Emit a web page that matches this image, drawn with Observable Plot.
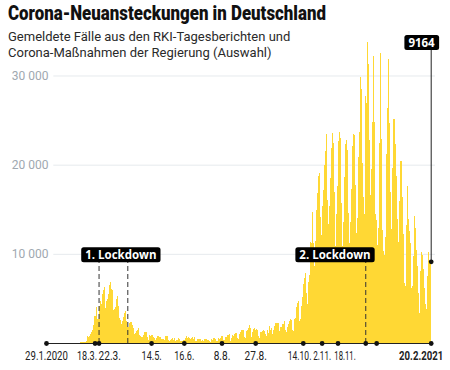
<!DOCTYPE html>
<html><head><meta charset="utf-8">
<script src="https://cdn.jsdelivr.net/npm/d3@7"></script>
<script src="https://cdn.jsdelivr.net/npm/@observablehq/plot@0.6"></script>
<style>
body{margin:0;background:#fff;}
#wrap{position:relative;width:450px;height:370px;overflow:hidden;background:#fff;}
#chart{position:absolute;left:0;top:0;}
#title{position:absolute;left:8px;top:2px;z-index:2;white-space:nowrap;}
#title span{display:inline-block;transform-origin:0 50%;font-weight:900;font-size:19.5px;font-family:Roboto,sans-serif;color:#111;line-height:24px;}
#sub{position:absolute;left:8px;top:29px;font-size:13px;font-family:Roboto,sans-serif;color:#2a2a2a;line-height:16px;z-index:2;white-space:nowrap;}
</style></head><body>
<div id="wrap"><div id="chart"></div><div id="title"><span>Corona-Neuansteckungen in Deutschland</span></div><div id="sub">Gemeldete Fälle aus den RKI-Tagesberichten und<br>Corona-Maßnahmen der Regierung (Auswahl)</div></div>
<script>
// Daily reported new cases (from 29.1.2020 to 20.2.2021)
const jan2020 = [2, 0, 1];
const feb2020 = [2, 1, 2, 0, 2, 1, 0, 0, 0, 2, 0, 0, 0, 0, 0, 0, 0, 0, 0, 0, 0, 0, 0, 0, 2, 11, 5, 10, 13];
const mar2020 = [35, 31, 39, 66, 84, 131, 139, 124, 157, 271, 802, 693, 733, 1043, 1210, 1450, 1985, 3070, 2993, 4000, 2700, 2660, 4183, 4764, 4337, 5500, 5900, 6294, 3965, 4751, 4923];
const apr2020 = [5453, 6500, 6800, 6082, 5936, 3677, 3834, 4003, 4974, 5323, 4133, 2821, 2537, 2082, 2486, 2866, 3380, 3609, 2458, 1775, 1785, 2237, 2352, 2337, 2055, 1737, 1018, 1144, 1304, 1478];
const may2020 = [1639, 945, 793, 679, 685, 947, 1284, 1209, 1251, 667, 357, 933, 798, 933, 913, 620, 583, 342, 513, 797, 745, 460, 638, 431, 289, 432, 362, 353, 741, 738, 286];
const jun2020 = [333, 213, 342, 394, 507, 301, 555, 214, 350, 318, 555, 436, 192, 247, 192, 378, 345, 580, 770, 601, 687, 537, 503, 587, 630, 477, 687, 256, 262, 466];
const jul2020 = [503, 446, 422, 239, 297, 219, 397, 442, 440, 378, 309, 248, 159, 395, 351, 534, 583, 430, 198, 249, 522, 454, 569, 815, 781, 305, 340, 633, 684, 902, 870];
const aug2020 = [955, 240, 509, 879, 741, 1045, 1147, 1122, 555, 436, 966, 1226, 1445, 1449, 1415, 625, 561, 1390, 1510, 1707, 2034, 1737, 711, 1278, 1576, 1628, 1507, 1571, 1479, 785, 610];
const sep2020 = [1218, 1256, 1311, 1453, 1378, 988, 814, 1499, 1176, 1892, 1484, 1630, 1007, 1345, 1407, 1901, 2194, 1916, 2297, 1345, 922, 1769, 1769, 2143, 2153, 2507, 1411, 1192, 1798, 2089];
const oct2020 = [2503, 2673, 2563, 1411, 1382, 2639, 2828, 4058, 4516, 4721, 2467, 2673, 4122, 5132, 6638, 7334, 7830, 5587, 4325, 6868, 7595, 11287, 11242, 14714, 11176, 8685, 11409, 14964, 16774, 18681, 19059];
const nov2020 = [14177, 12097, 15352, 17214, 19990, 21506, 23399, 16017, 13363, 15332, 18487, 21866, 23542, 22461, 16947, 10824, 14419, 17561, 22609, 23648, 22964, 15741, 10864, 13554, 18633, 22268, 22806, 21695, 14611, 11169];
const dec2020 = [13604, 17270, 22046, 23449, 23318, 17767, 12332, 14054, 20815, 23679, 29875, 28438, 20200, 16362, 14432, 27728, 26923, 33777, 31300, 22771, 16643, 19528, 24740, 32195, 24740, 14455, 13755, 10976, 12892, 22459, 32552];
const jan2021 = [22924, 12690, 10315, 9847, 11897, 21237, 26391, 31849, 24694, 16946, 12497, 12802, 19600, 25164, 22368, 18678, 13882, 7141, 11369, 15974, 20398, 17862, 16417, 12257, 6729, 6408, 13202, 17553, 13881, 12542, 11192];
const feb2021 = [6114, 6385, 9705, 14211, 12908, 10485, 8616, 5608, 3379, 8072, 10237, 9860, 8354, 6114, 4426, 3856, 7556, 10207, 9113, 9164];

const yTicks = [10000, 20000, 30000];
const tickDates = ["2020-01-29", "2020-03-18", "2020-03-22", "2020-05-14", "2020-06-16", "2020-07-24", "2020-08-27", "2020-10-14", "2020-11-02", "2020-11-18", "2020-12-16", "2020-12-27", "2021-02-20"];
const tickLabels = ["29.1.2020", "18.3.", "22.3.", "14.5.", "16.6.", "8.8.", "27.8.", "14.10.", "2.11.", "18.11.", "", "", "20.2.2021"];
const lockdownLines = ["2020-03-22", "2020-04-20", "2020-12-16"];
const lockdownLabelDates = ["2020-04-13", "2020-11-15"];
const lockdownLabelTexts = ["1. Lockdown", "2. Lockdown"];

const DAY = 864e5;
const parse = s => new Date(s + "T00:00:00Z");
const start = parse("2020-01-29");
const cases = [].concat(jan2020, feb2020, mar2020, apr2020, may2020, jun2020, jul2020, aug2020, sep2020, oct2020, nov2020, dec2020, jan2021, feb2021);
const data = cases.map((v, i) => ({date: new Date(+start + i * DAY), value: v}));
const last = data[data.length - 1];
const ticks = tickDates.map((d, i) => ({date: parse(d), label: tickLabels[i]}));
const lockLabels = lockdownLabelDates.map((d, i) => ({date: parse(d), text: lockdownLabelTexts[i]}));
const labelTop = 33700;

const yFmt = d => d3.format(",")(d).replace(/,/g, " ");
const nudge = {"18.3.": ["end", 2], "22.3.": ["start", -0.5], "14.10.": ["middle", -3.7], "18.11.": ["middle", 7], "20.2.2021": ["end", 12]};

const groups = d3.groups(ticks.filter(t => t.label), t => (nudge[t.label] || ["middle", 0]).join("|"));
const tickTextMarks = groups.map(([key, arr]) => {
  const [anchor, dx] = key.split("|");
  const bold = arr.some(t => t.label === "20.2.2021");
  return Plot.text(arr, {x: "date", y: 0, text: "label", textAnchor: anchor, dx: +dx, dy: 12.5,
    fontSize: 12, fontFamily: "Roboto", fontWeight: bold ? "bold" : "normal", fill: "#222"});
});

const chart = Plot.plot({
  width: 450, height: 370,
  marginLeft: 46, marginRight: 19.3, marginTop: 30.9, marginBottom: 27,
  x: {type: "utc", domain: [start, last.date], axis: null},
  y: {domain: [0, 35000], axis: null},
  style: {background: "transparent", overflow: "visible"},
  marks: [
    Plot.ruleY(yTicks, {stroke: "#e6eaed", insetLeft: 7.3, insetRight: -4.3}),
    Plot.text(yTicks, {y: d => d, frameAnchor: "left", text: yFmt, textAnchor: "end", dx: 2, fill: "#a0a8b0", fontSize: 12, fontFamily: "Roboto"}),
    Plot.rectY(data, {x1: d => new Date(+d.date - DAY * 0.55), x2: d => new Date(+d.date + DAY * 0.55), y: "value", fill: "#ffd834", shapeRendering: "crispEdges"}),
    Plot.ruleX(lockdownLines, {x: d => parse(d), y1: 0, y2: 10000, stroke: "#333", strokeWidth: 1, strokeDasharray: "5,3"}),
    Plot.ruleX([last], {x: "date", y1: "value", y2: labelTop, stroke: "#222", strokeWidth: 1}),
    Plot.ruleY([0], {stroke: "#222", strokeWidth: 1.2}),
    Plot.dot(ticks, {x: "date", y: 0, r: 2.4, fill: "#111"}),
    Plot.dot([last], {x: "date", y: "value", r: 2.4, fill: "#111"}),
    ...tickTextMarks,
    Plot.text(lockLabels, {x: "date", y: 9900, text: "text", fill: "white", fontWeight: "bold", fontSize: 11.5, fontFamily: "Open Sans"}),
    Plot.text([last], {x: "date", y: labelTop, text: d => String(d.value), textAnchor: "end", dx: 3.5, fill: "white", fontWeight: "bold", fontSize: 11.5, fontFamily: "Open Sans"})
  ]
});
document.getElementById("chart").appendChild(chart);

// condense the title and the date labels (narrow type as in the original)
const ts = document.querySelector("#title span");
ts.style.transform = `scaleX(${318 / ts.getBoundingClientRect().width})`;
const tickSet = new Set(tickLabels.filter(Boolean));
const boxSet = new Set([...lockdownLabelTexts, String(last.value)]);
chart.querySelectorAll("text").forEach(t => {
  if (!tickSet.has(t.textContent)) return;
  const len = t.getComputedTextLength();
  const ones = (t.textContent.match(/1/g) || []).length;
  const s = (len * 0.84 - 2.2 * ones) / len;
  const tr = t.getAttribute("transform") || "";
  t.setAttribute("transform", `${tr} scale(${s.toFixed(3)},1)`);
});
// dark rounded boxes behind the annotation labels
chart.querySelectorAll("text").forEach(t => {
  if (!boxSet.has(t.textContent)) return;
  const bb = t.getBBox();
  const h = 15, cy = bb.y + bb.height / 2 + 0.3;
  const r = document.createElementNS("http://www.w3.org/2000/svg", "rect");
  r.setAttribute("x", bb.x - 4);
  r.setAttribute("y", cy - h / 2);
  r.setAttribute("width", bb.width + 8);
  r.setAttribute("height", h);
  r.setAttribute("rx", 2.5);
  r.setAttribute("fill", "#000");
  if (t.getAttribute("transform")) r.setAttribute("transform", t.getAttribute("transform"));
  t.parentNode.insertBefore(r, t);
});
</script>
</body></html>
